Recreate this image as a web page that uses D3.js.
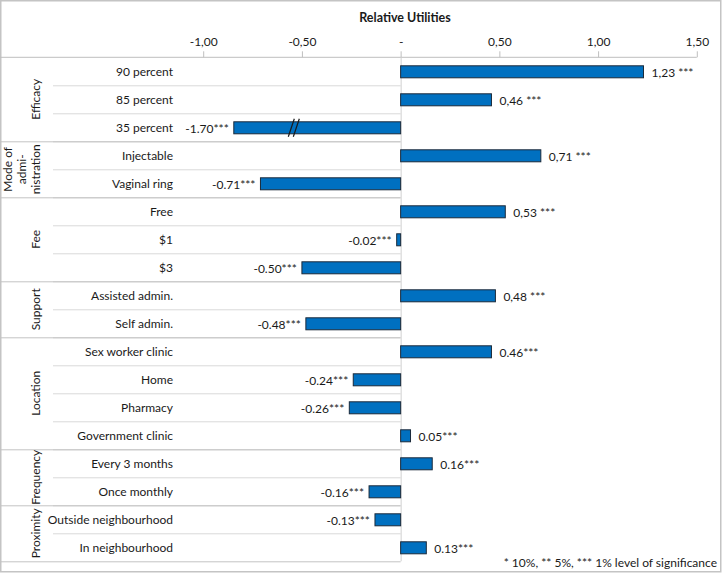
<!DOCTYPE html>
<html>
<head>
<meta charset="utf-8">
<script src="https://cdn.jsdelivr.net/npm/d3@7"></script>
<style>
  body { margin: 0; background: #fff; }
  svg text { font-family: Lato, "Noto Sans", sans-serif; fill: #1a1a1a; }
</style>
</head>
<body>
<div class="chart"></div>
<script>
// data
var categories = ["90 percent", "85 percent", "35 percent", "Injectable", "Vaginal ring",
  "Free", "$1", "$3", "Assisted admin.", "Self admin.", "Sex worker clinic", "Home",
  "Pharmacy", "Government clinic", "Every 3 months", "Once monthly",
  "Outside neighbourhood", "In neighbourhood"];
var values = [1.23, 0.46, -1.70, 0.71, -0.71, 0.53, -0.02, -0.50, 0.48, -0.48,
  0.46, -0.24, -0.26, 0.05, 0.16, -0.16, -0.13, 0.13];
var valueLabels = ["1,23 ***", "0,46 ***", "-1.70***", "0,71 ***", "-0.71***", "0,53 ***",
  "-0.02***", "-0.50***", "0,48 ***", "-0.48***", "0.46***", "-0.24***", "-0.26***",
  "0.05***", "0.16***", "-0.16***", "-0.13***", "0.13***"];
var groups = [["Efficacy"], ["Mode of", "admi-", "nistration"], ["Fee"], ["Support"],
  ["Location"], ["Frequency"], ["Proximity"]];
var groupSizes = [3, 2, 3, 2, 4, 2, 2];
var tickValues = [-1, -0.5, 0, 0.5, 1, 1.5];
var tickLabels = ["-1,00", "-0,50", "-", "0,50", "1,00", "1,50"];

// the -1.70 bar is cut short with a break mark
var breakAt = -0.845;

var svgWidth = 722, svgHeight = 573;
var plotTop = 57.3, rowH = 28;

var svg = d3.select(".chart").append("svg")
  .attr("width", svgWidth)
  .attr("height", svgHeight);

var x = d3.scaleLinear().domain([-1, 1.5]).range([203.2, 696.8]);
var y = d3.scaleBand().domain(categories)
  .range([plotTop, plotTop + rowH * categories.length]);

// outer frame
svg.append("rect")
  .attr("x", 0.75).attr("y", 0.75)
  .attr("width", svgWidth - 2).attr("height", svgHeight - 2)
  .attr("fill", "none").attr("stroke", "#c4c4c4").attr("stroke-width", 1.5);

// title
svg.append("text")
  .attr("x", 405).attr("y", 22)
  .attr("text-anchor", "middle")
  .attr("font-size", "12.5px").attr("font-weight", "bold")
  .text("Relative Utilities");

// top axis
var topAxis = d3.axisTop(x).tickValues(tickValues)
  .tickFormat((d, i) => tickLabels[i]).tickSize(6).tickSizeOuter(0);
var axisG = svg.append("g").attr("transform", `translate(0, ${plotTop})`).call(topAxis);
axisG.select(".domain").remove();
axisG.selectAll(".tick line").attr("stroke", "#bfbfbf");
axisG.selectAll(".tick text").attr("font-size", "12px").attr("dy", "-0.2em")
  .style("font-family", "Lato, 'Noto Sans', sans-serif").attr("fill", "#1a1a1a");
svg.append("line")
  .attr("x1", 0).attr("x2", x(1.5))
  .attr("y1", plotTop).attr("y2", plotTop)
  .attr("stroke", "#bfbfbf");

// row separators
var labelLeft = 53;
svg.append("g").selectAll("line")
  .data(categories.slice(1))
  .enter().append("line")
  .attr("x1", labelLeft).attr("x2", x(0))
  .attr("y1", d => y(d) + 0.5).attr("y2", d => y(d) + 0.5)
  .attr("stroke", "#d9d9d9");

// group separators and group labels
var start = 0;
var gLab = svg.append("g");
groups.forEach(function(lines, gi) {
  var n = groupSizes[gi];
  var yTop = y(categories[start]);
  var yBot = yTop + n * rowH;
  gLab.append("line")
    .attr("x1", 0).attr("x2", x(0))
    .attr("y1", yBot + 0.5).attr("y2", yBot + 0.5)
    .attr("stroke", "#c4c4c4");
  var cy = (yTop + yBot) / 2;
  var lineGap = 14;
  lines.forEach(function(t, li) {
    var cx = 36 - (lines.length - 1 - li) * lineGap;
    gLab.append("text")
      .attr("transform", `translate(${cx}, ${cy}) rotate(-90)`)
      .attr("text-anchor", "middle")
      .attr("dy", "0.35em")
      .attr("font-size", "12px")
      .text(t);
  });
  start += n;
});

// zero line
svg.append("line")
  .attr("x1", x(0) + 0.5).attr("x2", x(0) + 0.5)
  .attr("y1", plotTop).attr("y2", plotTop + rowH * categories.length)
  .attr("stroke", "#d0d0d0");

// category labels
svg.append("g").selectAll("text")
  .data(categories)
  .enter().append("text")
  .attr("x", 173)
  .attr("y", d => y(d) + y.bandwidth() / 2)
  .attr("dy", "0.35em")
  .attr("text-anchor", "end")
  .attr("font-size", "12px")
  .text(d => d);

// bars
var barH = 12;
var shown = values.map(v => Math.max(v, breakAt));
svg.append("g").selectAll("rect")
  .data(categories)
  .enter().append("rect")
  .attr("x", (d, i) => x(Math.min(0, shown[i])))
  .attr("y", d => y(d) + y.bandwidth() / 2 - barH / 2 + 0.5)
  .attr("width", (d, i) => Math.abs(x(shown[i]) - x(0)))
  .attr("height", barH)
  .attr("fill", "#0070c0")
  .attr("stroke", "#1b2a3a")
  .attr("stroke-width", 1);

// break mark on the cut bar
values.forEach(function(v, i) {
  if (v >= breakAt) return;
  var cy = y(categories[i]) + y.bandwidth() / 2 + 0.5;
  var bx = x(breakAt) + 60;
  [-2.5, 2.5].forEach(function(off) {
    svg.append("line")
      .attr("x1", bx + off - 3).attr("y1", cy + 9)
      .attr("x2", bx + off + 3).attr("y2", cy - 9)
      .attr("stroke", "#1a1a1a").attr("stroke-width", 1.2);
  });
});

// value labels
svg.append("g").selectAll("text")
  .data(categories)
  .enter().append("text")
  .attr("x", (d, i) => shown[i] >= 0 ? x(shown[i]) + 8 : x(shown[i]) - 5)
  .attr("y", d => y(d) + y.bandwidth() / 2 + 1)
  .attr("dy", "0.35em")
  .attr("text-anchor", (d, i) => shown[i] >= 0 ? "start" : "end")
  .attr("font-size", "12px")
  .text((d, i) => valueLabels[i]);

// footnote
svg.append("text")
  .attr("x", 717).attr("y", 567)
  .attr("text-anchor", "end")
  .attr("font-size", "12px")
  .text("* 10%, ** 5%, *** 1% level of significance");
</script>
</body>
</html>
